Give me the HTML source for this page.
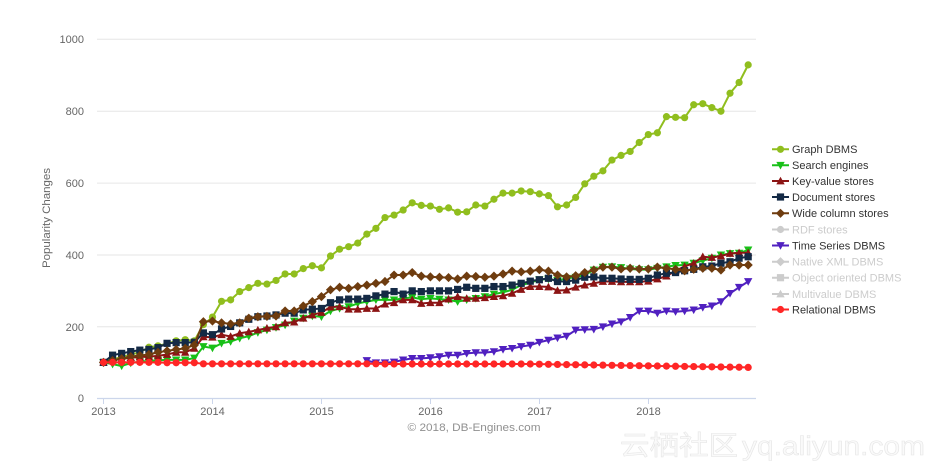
<!DOCTYPE html>
<html><head><meta charset="utf-8">
<style>
html,body{margin:0;padding:0;background:#fff;}
svg{display:block;font-family:"Liberation Sans","Noto Sans CJK SC",sans-serif;}
</style></head><body>
<svg id="c" width="937" height="473" viewBox="0 0 937 473" xmlns="http://www.w3.org/2000/svg">
<rect x="0" y="0" width="937" height="473" fill="#ffffff"/>
<g stroke="#e6e6e6" stroke-width="1" fill="none">
<line x1="97" y1="39.3" x2="756" y2="39.3"/>
<line x1="97" y1="111.2" x2="756" y2="111.2"/>
<line x1="97" y1="183.1" x2="756" y2="183.1"/>
<line x1="97" y1="255" x2="756" y2="255"/>
<line x1="97" y1="326.7" x2="756" y2="326.7"/>
</g>
<line x1="97" y1="398.5" x2="756" y2="398.5" stroke="#ccd6eb" stroke-width="1.2"/>
<g stroke="#ccd6eb" stroke-width="1">
<line x1="103.5" y1="398.5" x2="103.5" y2="404"/>
<line x1="212.5" y1="398.5" x2="212.5" y2="404"/>
<line x1="321.5" y1="398.5" x2="321.5" y2="404"/>
<line x1="430.5" y1="398.5" x2="430.5" y2="404"/>
<line x1="539.5" y1="398.5" x2="539.5" y2="404"/>
<line x1="648.5" y1="398.5" x2="648.5" y2="404"/>
</g>
<g font-size="11" fill="#666" text-anchor="end">
<text x="84" y="43">1000</text>
<text x="84" y="115">800</text>
<text x="84" y="187">600</text>
<text x="84" y="259">400</text>
<text x="84" y="331">200</text>
<text x="84" y="402">0</text>
</g>
<g font-size="11" fill="#666" text-anchor="middle">
<text x="103.5" y="415">2013</text>
<text x="212.5" y="415">2014</text>
<text x="321.5" y="415">2015</text>
<text x="430.5" y="415">2016</text>
<text x="539.5" y="415">2017</text>
<text x="648.5" y="415">2018</text>
</g>
<text transform="translate(50,218) rotate(-90)" font-size="11" fill="#666" text-anchor="middle" textLength="100" lengthAdjust="spacingAndGlyphs">Popularity Changes</text>
<text x="474" y="431" font-size="11" fill="#909090" text-anchor="middle" textLength="133" lengthAdjust="spacingAndGlyphs">© 2018, DB-Engines.com</text>
<g id="series"></g>
<g id="legend"></g>
<g font-size="11">
<text x="792" y="153" fill="#333">Graph DBMS</text>
<text x="792" y="169" fill="#333">Search engines</text>
<text x="792" y="185" fill="#333">Key-value stores</text>
<text x="792" y="201" fill="#333">Document stores</text>
<text x="792" y="217" fill="#333">Wide column stores</text>
<text x="792" y="233.5" fill="#cccccc">RDF stores</text>
<text x="792" y="249.5" fill="#333">Time Series DBMS</text>
<text x="792" y="265.5" fill="#cccccc">Native XML DBMS</text>
<text x="792" y="281.5" fill="#cccccc">Object oriented DBMS</text>
<text x="792" y="298" fill="#cccccc">Multivalue DBMS</text>
<text x="792" y="313.5" fill="#333">Relational DBMS</text>
</g>
<g font-size="27" fill="#fafafa" stroke="#e6e6e6" stroke-width="0.6">
<text x="620" y="455" textLength="118" lengthAdjust="spacingAndGlyphs" font-family="Noto Sans CJK SC, sans-serif">云栖社区</text>
<text x="742" y="455" textLength="183" lengthAdjust="spacingAndGlyphs">yq.aliyun.com</text>
</g>
</svg>
<script>
(function(){
var X0=103.5,DX=9.08;
function Y(v){return 398.3-v*0.3593;}
function mk(t,x,y,c){
 x=+x.toFixed(2);y=+y.toFixed(2);
 if(t==='circle')return '<circle cx="'+x+'" cy="'+y+'" r="3.6" fill="'+c+'"/>';
 if(t==='square')return '<rect x="'+(x-3.6)+'" y="'+(y-3.6)+'" width="7.2" height="7.2" fill="'+c+'"/>';
 if(t==='up')return '<polygon points="'+x+','+(y-4.2)+' '+(x+4.2)+','+(y+3.4)+' '+(x-4.2)+','+(y+3.4)+'" fill="'+c+'"/>';
 if(t==='down')return '<polygon points="'+(x-4.2)+','+(y-3.4)+' '+(x+4.2)+','+(y-3.4)+' '+x+','+(y+4.2)+'" fill="'+c+'"/>';
 if(t==='diamond')return '<polygon points="'+x+','+(y-4.6)+' '+(x+4.6)+','+y+' '+x+','+(y+4.6)+' '+(x-4.6)+','+y+'" fill="'+c+'"/>';
 return '';
}
var rel=[];
for(var i=0;i<72;i++){
 var v;
 if(i<7)v=100;else if(i<11)v=99;else if(i<31)v=96;else if(i<48)v=95.5;else v=95-(i-48)*(9/23);
 rel.push(v);
}
var S=[
 {c:'#90be1e',m:'circle',s:0,d:[100,108,115,122,128,142,146,152,160,163,160,205,226,270,274,297,308,320,318,328,346,346,361,369,363,396,415,422,432,457,473,503,510,524,544,537,535,526,530,518,519,538,535,554,571,571,577,575,569,564,533,538,559,597,618,633,663,676,687,712,734,739,784,782,781,817,820,809,799,849,879,928]},
 {c:'#18c018',m:'down',s:0,d:[100,95,90,98,102,104,106,107,107,107,112,144,140,153,158,167,173,183,190,197,204,215,223,229,227,243,250,255,264,269,274,274,274,278,281,276,278,276,274,269,274,278,283,290,295,302,315,322,330,332,328,334,337,343,357,365,366,364,360,358,358,362,366,370,371,376,383,390,399,403,404,413]},
 {c:'#8c1414',m:'up',s:0,d:[100,106,110,113,115,116,118,122,128,128,139,171,170,177,172,181,185,190,195,199,210,212,223,232,239,254,255,248,248,250,250,262,266,274,274,264,266,266,276,283,278,278,280,283,285,292,303,311,311,310,300,301,309,315,320,325,325,324,324,324,326,332,340,355,367,376,394,392,396,403,405,405]},
 {c:'#142a45',m:'square',s:0,d:[100,120,125,130,134,136,141,153,155,155,156,182,177,193,200,210,220,227,229,232,237,237,246,248,250,266,274,276,276,278,285,290,297,290,299,297,299,299,299,303,309,306,306,311,311,315,320,326,330,334,325,325,329,337,338,334,334,332,331,331,334,343,348,350,355,359,366,368,376,380,390,394]},
 {c:'#6e3c0f',m:'diamond',s:0,d:[100,105,110,116,119,122,128,132,136,139,148,213,215,210,207,210,223,227,228,229,243,243,257,269,283,302,309,306,311,315,320,325,343,343,350,340,338,337,336,332,340,339,337,340,346,354,352,354,358,354,343,338,341,350,357,365,365,360,362,360,360,365,362,359,355,359,362,362,357,371,371,371]},
 {c:'#5020c0',m:'down',s:29,d:[105,99,99,101,107,111,111,113,116,120,120,125,127,127,130,136,139,144,148,156,162,168,173,190,191,192,199,207,213,225,243,243,237,243,241,243,246,253,257,269,292,309,325]},
 {c:'#ff2626',m:'circle',s:0,d:rel}
];
var h='';
S.forEach(function(se){
 var pts=[];
 se.d.forEach(function(v,k){pts.push([X0+(se.s+k)*DX,Y(v)]);});
 h+='<polyline fill="none" stroke="'+se.c+'" stroke-width="2" stroke-linejoin="round" points="'+pts.map(function(p){return p[0].toFixed(2)+','+p[1].toFixed(2);}).join(' ')+'"/>';
 pts.forEach(function(p){h+=mk(se.m,p[0],p[1],se.c);});
});
document.getElementById('series').innerHTML=h;
var L=[['#90be1e','circle'],['#18c018','down'],['#8c1414','up'],['#142a45','square'],['#6e3c0f','diamond'],['#cccccc','circle'],['#5020c0','down'],['#cccccc','diamond'],['#cccccc','square'],['#cccccc','up'],['#ff2626','circle']];
var ly=[149.3,165.3,181,197,213.3,229.5,245.5,261.7,277.7,294,309.5];
var g='';
L.forEach(function(it,k){
 var y=ly[k];
 g+='<line x1="772" y1="'+y+'" x2="789" y2="'+y+'" stroke="'+it[0]+'" stroke-width="2"/>';
 g+=mk(it[1],780.5,y,it[0]);
});
document.getElementById('legend').innerHTML=g;
})();
</script>
</body></html>
